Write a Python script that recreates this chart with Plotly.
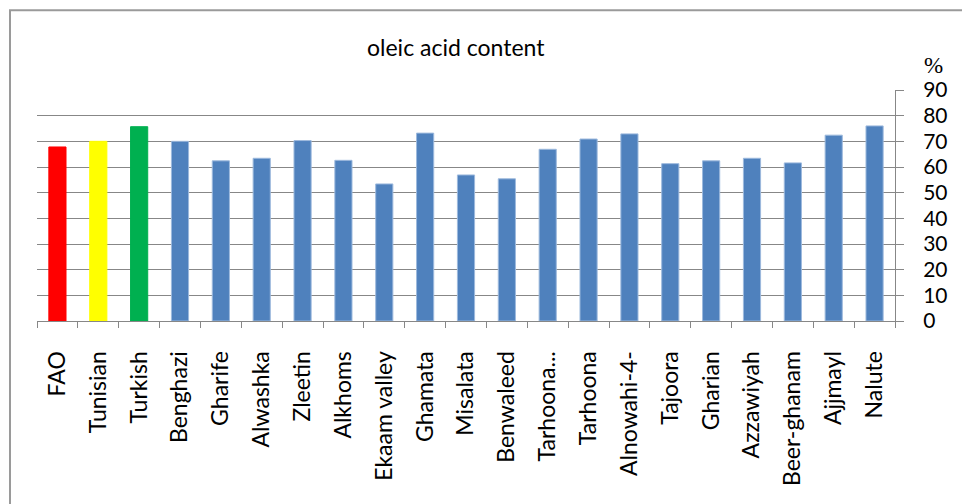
import plotly.graph_objects as go

# Oleic acid content (%) of olive oil samples by origin
categories = ["FAO", "Tunisian", "Turkish", "Benghazi", "Gharife", "Alwashka", "Zleetin",
              "Alkhoms", "Ekaam valley", "Ghamata", "Misalata", "Benwaleed", "Tarhoona...",
              "Tarhoona", "Alnowahi-4-", "Tajoora", "Gharian", "Azzawiyah", "Beer-ghanam",
              "Ajjmayl", "Nalute"]
oleic = [67.8, 70.0, 75.7, 70.0, 62.4, 63.4, 70.3, 62.6, 53.4, 73.2, 56.9, 55.4, 66.9,
         70.9, 72.9, 61.3, 62.4, 63.4, 61.6, 72.4, 76.0]
y_ticks = [0, 10, 20, 30, 40, 50, 60, 70, 80, 90]

BLUE = "#4F81BD"
reference_colors = {"FAO": "#FF0000", "Tunisian": "#FFFF00", "Turkish": "#00B050"}
bar_colors = [reference_colors.get(c, BLUE) for c in categories]
edge_colors = [reference_colors.get(c, "#9DB9DD") for c in categories]

FONT = "Lato"
GRID = "#878787"

W, H = 962, 504
L, R, T, B = 37, 895, 90, 321.5

fig = go.Figure(go.Bar(
    x=categories, y=oleic,
    marker=dict(color=bar_colors, line=dict(color=edge_colors, width=1)),
    width=0.42,
))

def px_x(px):
    return (px - L) / (R - L)

def px_y(py):
    return (B - py) / (B - T)

fig.update_layout(
    width=W, height=H,
    margin=dict(l=L, r=W - R, t=T, b=H - B, autoexpand=False),
    paper_bgcolor="white", plot_bgcolor="white",
    showlegend=False,
    font=dict(family=FONT, size=21, color="black"),
    xaxis=dict(
        type="category", tickson="boundaries", ticks="outside", ticklen=6,
        tickcolor=GRID, tickwidth=1, showline=True, linecolor=GRID, linewidth=1,
        showgrid=False, tickangle=-90, tickfont=dict(size=23),
        ticklabelstandoff=20, automargin=False,
    ),
    yaxis=dict(
        side="right", range=[0, 90], tickvals=y_ticks, ticks="outside", ticklen=8,
        tickcolor=GRID, showline=True, linecolor=GRID, linewidth=1,
        showgrid=True, gridcolor=GRID, gridwidth=1, zeroline=False,
        tickfont=dict(size=21), ticklabelstandoff=15, automargin=False,
    ),
    annotations=[
        dict(text="oleic acid content", xref="paper", yref="paper",
             x=px_x(456), y=px_y(47), xanchor="center", yanchor="middle",
             showarrow=False, font=dict(family=FONT, size=23)),
        dict(text="%", xref="paper", yref="paper", x=px_x(933), y=px_y(65),
             xanchor="center", yanchor="middle",
             showarrow=False, font=dict(family="Liberation Serif", size=23)),
    ],
    shapes=[
        dict(type="rect", xref="paper", yref="paper",
             x0=px_x(10), x1=px_x(975), y0=px_y(10), y1=px_y(520),
             line=dict(color="#9A9A9A", width=2), fillcolor="rgba(0,0,0,0)",
             layer="below"),
    ],
)

fig.write_html("out.html")
